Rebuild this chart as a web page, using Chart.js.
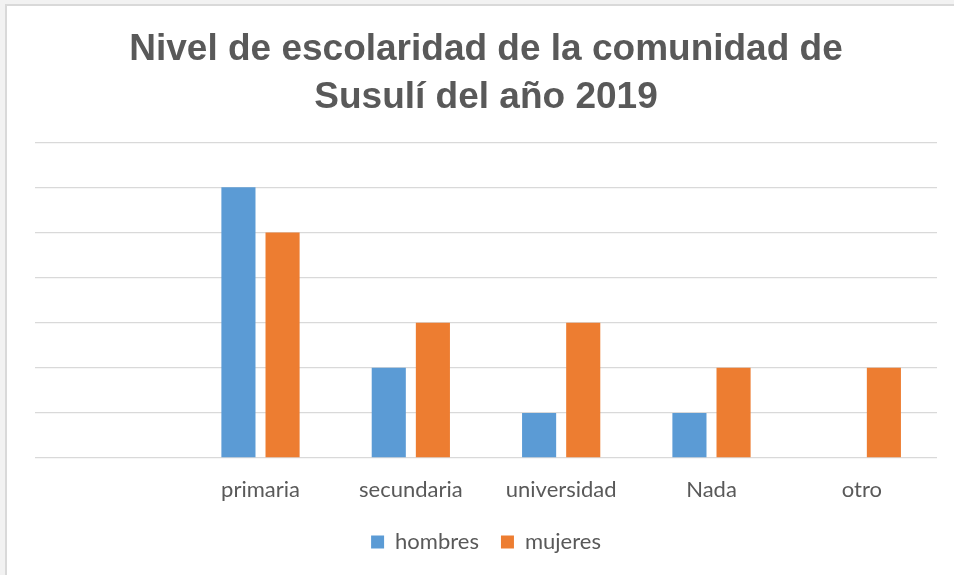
<!DOCTYPE html>
<html>
<head>
<meta charset="utf-8">
<script src="https://cdn.jsdelivr.net/npm/chart.js@4"></script>
<style>
html,body{margin:0;padding:0;background:#f2f2f2;width:954px;height:575px;overflow:hidden;}
#wrap{position:absolute;left:5px;top:4px;width:949px;height:571px;border-left:2px solid #d9d9d9;border-top:2px solid #d9d9d9;background:#fff;}
canvas{display:block;}
</style>
</head>
<body>
<div id="wrap"><canvas id="c" width="947" height="569"></canvas></div>
<script>
const titleLines = ['Nivel de escolaridad de la comunidad de', 'Susulí del año 2019'];
const categories = ['', 'primaria', 'secundaria', 'universidad', 'Nada', 'otro'];
const hombres = [null, 6, 2, 1, 1, 0];
const mujeres = [null, 5, 3, 3, 2, 2];
const yMax = 7;

const labelFont = {family: 'Lato, "Open Sans", sans-serif', size: 22};
const textColor = '#595959';

new Chart(document.getElementById('c'), {
  type: 'bar',
  data: {
    labels: categories,
    datasets: [
      {label: 'hombres', data: hombres, backgroundColor: '#5B9BD5', borderColor: '#5B9BD5', borderWidth: 0},
      {label: 'mujeres', data: mujeres, backgroundColor: '#ED7D31', borderColor: '#ED7D31', borderWidth: 0}
    ]
  },
  options: {
    responsive: false,
    animation: false,
    events: [],
    categoryPercentage: 0.587,
    barPercentage: 0.773,
    layout: {padding: {left: 28, right: 17, top: 0, bottom: 12}},
    plugins: {
      title: {
        display: true,
        text: titleLines,
        color: textColor,
        font: {family: '"Liberation Sans", Arial, sans-serif', size: 37, weight: 'bold', lineHeight: 1.3},
        padding: {top: 19.5, bottom: 20.5}
      },
      legend: {
        display: true,
        position: 'bottom',
        labels: {
          color: textColor,
          font: labelFont,
          boxWidth: 13,
          boxHeight: 13,
          padding: 22
        }
      },
      tooltip: {enabled: false}
    },
    scales: {
      x: {
        grid: {display: false, drawTicks: false},
        border: {display: false},
        ticks: {color: textColor, font: labelFont, padding: 18.8, maxRotation: 0, autoSkip: false},
        afterFit: (s) => { s.height = 51; }
      },
      y: {
        min: 0,
        max: yMax,
        grid: {color: '#d9d9d9', lineWidth: 1.3, drawTicks: false},
        border: {display: false},
        ticks: {display: false, stepSize: 1}
      }
    }
  }
});
</script>
</body>
</html>
